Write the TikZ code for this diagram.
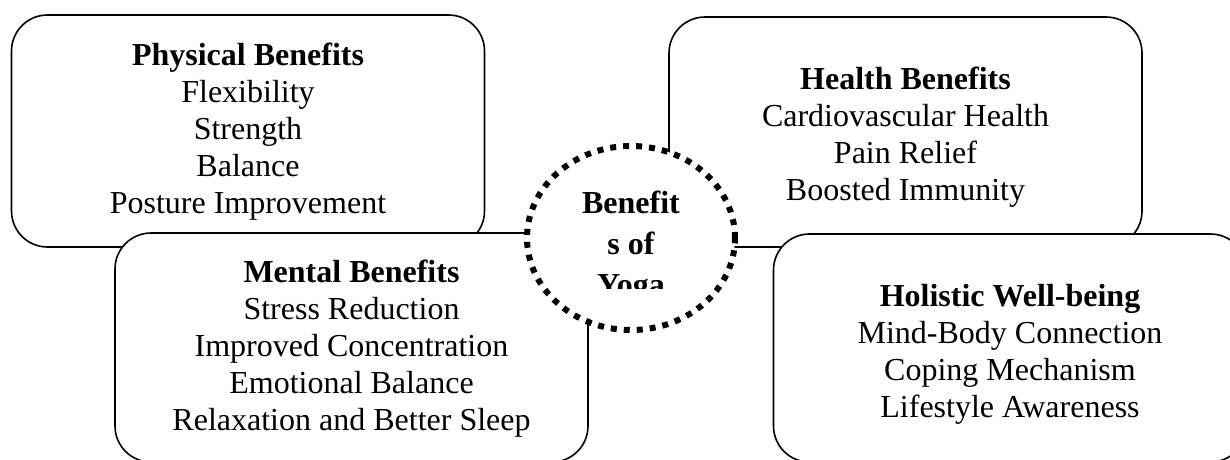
\documentclass[tikz,border=0pt]{standalone}
\usepackage{fontspec}
\setmainfont{Liberation Serif}
\usetikzlibrary{shapes.geometric}
\tikzset{
    panel/.style={draw, fill=white, line width=1.6pt, rounded corners=36pt,
      minimum width=473pt, minimum height=#1, inner sep=0pt},
    panel/.default=230pt,
    txt/.style={align=center, inner sep=0pt, font=\fontsize{32}{37}\selectfont},
    hub/.style={ellipse, draw, fill=white, line width=6pt, dash pattern=on 6pt off 7pt,
      minimum width=208pt, minimum height=184pt, inner sep=0pt},
  }
\begin{document}
\begin{tikzpicture}[x=1pt,y=-1pt]
	%cadre de l'image
	\clip (0,0) rectangle (1230,459);
	%les quatre cadres
	\node[panel=232pt] (phys) at (248,131) {};
	\node[txt] (physT) at (248,131.5) {\textbf{Physical Benefits}\\Flexibility\\Strength\\Balance\\Posture Improvement};
	\node[panel] (health) at (905.5,132) {};
	\node[txt] (healthT) at (905.5,137) {\textbf{Health Benefits}\\Cardiovascular Health\\Pain Relief\\Boosted Immunity};
	\node[panel=229pt] (mental) at (351.5,347.5) {};
	\node[txt] (mentalT) at (351.5,349) {\textbf{Mental Benefits}\\Stress Reduction\\Improved Concentration\\Emotional Balance\\Relaxation and Better Sleep};
	\node[panel=228pt] (holist) at (1010,348) {};
	\node[txt] (holistT) at (1010,354.5) {\textbf{Holistic Well-being}\\Mind-Body Connection\\Coping Mechanism\\Lifestyle Awareness};
	%cercle central
	\node[hub] (hub) at (631,238) {};
	\begin{scope}
	  \clip (527,146) rectangle (735,288);
	  \node[txt, font=\fontsize{32}{41}\selectfont\bfseries] (hubT) at (631,247) {Benefit\\s of\\Yoga};
	\end{scope}
\end{tikzpicture}
\end{document}
